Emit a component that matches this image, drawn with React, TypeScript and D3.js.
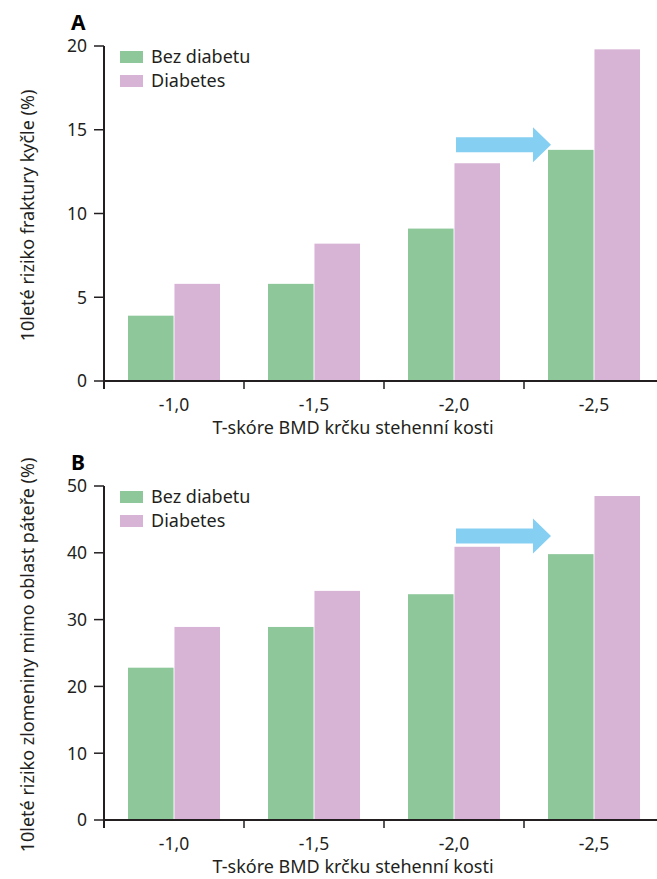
import React from "react";
import * as d3 from "d3";

const CATEGORIES = ["-1,0", "-1,5", "-2,0", "-2,5"];
const SERIES = ["Bez diabetu", "Diabetes"];
const COLORS = ["#8ec79a", "#d7b4d6"];

const HIP_NO_DIABETES = [3.9, 5.8, 9.1, 13.8];
const HIP_DIABETES = [5.8, 8.2, 13.0, 19.8];
const HIP_TICKS = [0, 5, 10, 15, 20];

const OTHER_NO_DIABETES = [22.8, 28.9, 33.8, 39.8];
const OTHER_DIABETES = [28.9, 34.3, 40.9, 48.5];
const OTHER_TICKS = [0, 10, 20, 30, 40, 50];

const X_TITLE = "T-skóre BMD krčku stehenní kosti";
const FONT = "'Noto Sans', sans-serif";
const WIDTH = 657;
const HEIGHT = 879;

type PanelProps = {
  letter: string;
  top: number;
  bottom: number;
  yMax: number;
  ticks: number[];
  values: number[][];
  yTitle: string;
  arrowY: number;
};

const Panel = ({ letter, top, bottom, yMax, ticks, values, yTitle, arrowY }: PanelProps) => {
  const left = 104;
  const x = d3.scaleBand().domain(CATEGORIES).range([left, 664]).paddingInner(0).paddingOuter(0);
  const inner = d3.scaleBand().domain(SERIES).range([x.bandwidth() / 2 - 46, x.bandwidth() / 2 + 46]).paddingInner(0.02);
  const y = d3.scaleLinear().domain([0, yMax]).range([bottom, top]);

  // arrow from the "-2,0" group towards "-2,5"
  const ax0 = x(CATEGORIES[2])! + x.bandwidth() / 2 + 2;
  const ax1 = x(CATEGORIES[3])! + 27;
  const ay = y(arrowY);
  const head = 18;
  const arrow = d3.path();
  arrow.moveTo(ax0, ay - 7.5);
  arrow.lineTo(ax1 - head, ay - 7.5);
  arrow.lineTo(ax1 - head, ay - 17.5);
  arrow.lineTo(ax1, ay);
  arrow.lineTo(ax1 - head, ay + 17.5);
  arrow.lineTo(ax1 - head, ay + 7.5);
  arrow.lineTo(ax0, ay + 7.5);
  arrow.closePath();

  return (
    <g>
      {CATEGORIES.map((c, i) => (
        <g key={c} transform={`translate(${x(c)},0)`}>
          {SERIES.map((s, j) => (
            <rect
              key={s}
              x={inner(s)}
              width={inner.bandwidth()}
              y={y(values[j][i])}
              height={y(0) - y(values[j][i])}
              fill={COLORS[j]}
            />
          ))}
        </g>
      ))}
      <path d={arrow.toString()} fill="#85d0f2" />

      {/* axes */}
      <line x1={left} x2={left} y1={top} y2={bottom + 8} stroke="#231f20" strokeWidth={2} />
      <line x1={left} x2={WIDTH} y1={bottom} y2={bottom} stroke="#231f20" strokeWidth={2} />
      {ticks.map((t) => (
        <g key={t}>
          <line x1={left - 10} x2={left} y1={y(t)} y2={y(t)} stroke="#231f20" strokeWidth={1.5} />
          <text x={left - 17} y={y(t)} dy="0.36em" textAnchor="end" fontSize={17.5} fill="#231f20">
            {t}
          </text>
        </g>
      ))}
      {CATEGORIES.slice(1).map((c) => (
        <line key={c} x1={x(c)} x2={x(c)} y1={bottom} y2={bottom + 8} stroke="#231f20" strokeWidth={1.5} />
      ))}
      {CATEGORIES.map((c) => (
        <text key={c} x={x(c)! + x.bandwidth() / 2} y={bottom + 30} textAnchor="middle" fontSize={17.5} fill="#231f20">
          {c}
        </text>
      ))}
      <text x={353} y={bottom + 53} textAnchor="middle" fontSize={18} fill="#231f20">
        {X_TITLE}
      </text>
      <text
        transform={`translate(34,${(top + bottom) / 2 + 2}) rotate(-90)`}
        textAnchor="middle"
        fontSize={18}
        fill="#231f20"
      >
        {yTitle}
      </text>
      <text x={71} y={top - 16} fontSize={21} fontWeight="bold" fill="#000">
        {letter}
      </text>

      {/* legend */}
      {SERIES.map((s, j) => (
        <g key={s} transform={`translate(120,${top + 5 + j * 24})`}>
          <rect width={23} height={12} fill={COLORS[j]} />
          <text x={31} y={6} dy="0.35em" fontSize={18} fill="#231f20">
            {s}
          </text>
        </g>
      ))}
    </g>
  );
};

export default function App() {
  return (
    <svg
      width={WIDTH}
      height={HEIGHT}
      style={{ position: "absolute", left: 0, top: 0, background: "#fff", fontFamily: FONT }}
    >
      <Panel
        letter="A"
        top={46}
        bottom={381}
        yMax={20}
        ticks={HIP_TICKS}
        values={[HIP_NO_DIABETES, HIP_DIABETES]}
        yTitle="10leté riziko fraktury kyčle (%)"
        arrowY={14.1}
      />
      <Panel
        letter="B"
        top={486}
        bottom={820}
        yMax={50}
        ticks={OTHER_TICKS}
        values={[OTHER_NO_DIABETES, OTHER_DIABETES]}
        yTitle="10leté riziko zlomeniny mimo oblast páteře (%)"
        arrowY={42.5}
      />
    </svg>
  );
}
